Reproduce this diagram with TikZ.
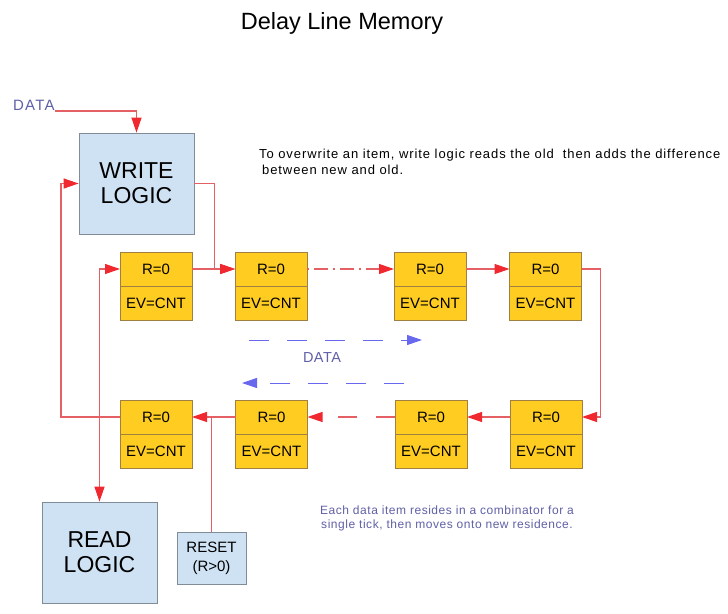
\documentclass[tikz,border=0pt]{standalone}
\usepackage{fontspec}
\setmainfont{Liberation Sans}
\usetikzlibrary{arrows.meta,positioning}
\definecolor{wirered}{RGB}{228,96,100}
\definecolor{tipred}{RGB}{240,40,48}
\definecolor{flowblue}{RGB}{104,104,238}
\definecolor{textblue}{RGB}{96,96,168}
\definecolor{logicfill}{RGB}{207,226,243}
\definecolor{logicline}{RGB}{128,140,152}
\definecolor{cellfill}{RGB}{255,204,34}
\definecolor{cellline}{RGB}{160,128,64}
\def\fs#1#2{\fontsize{#1}{#2}\selectfont}
\def\spaced#1{\addfontfeatures{LetterSpace=#1}}

\begin{document}
\begin{tikzpicture}[x=1pt, y=-1pt,
	wire/.style={draw=wirered, line width=1.2pt},
	wirearrow/.style={wire, -{Triangle[length=15pt,width=10pt,color=tipred]}},
	flow/.style={draw=flowblue, line width=1pt, dash pattern=on 20pt off 18pt,
		-{Triangle[length=15pt,width=10pt,color=flowblue]}},
	logic/.style={draw=logicline, fill=logicfill, line width=0.8pt, align=center,
		minimum width=115pt, minimum height=101pt, font=\fs{23}{25}},
	resetbox/.style={draw=logicline, fill=logicfill, line width=0.8pt, align=center,
		minimum width=69pt, minimum height=52pt, font=\fs{15}{19}},
	cellr/.style={draw=cellline, fill=cellfill, line width=0.8pt, outer sep=0pt,
		minimum width=72pt, minimum height=34pt, font=\fs{15}{15}},
	celle/.style={cellr, below=0pt of #1}]
		%%%%% START %%%%%
		
		\fill[white] (0, 0) rectangle (728, 613);
		
		\node[font=\fs{23.5}{23.5}] (title) at (342, 23) {Delay Line Memory};
		
		% logic blocks
		\node[logic] (write) at (136.5, 183.5) {WRITE\\LOGIC};
		\node[logic] (read) at (99.5, 552.5) {READ\\LOGIC};
		\node[resetbox] (reset) at (211.5, 558) {RESET\\(R>0)};
		
		% top row of combinators
		\node[cellr] (t1) at (156, 269) {R=0};
		\node[cellr, celle=t1] (t1e) {EV=CNT};
		\node[cellr] (t2) at (271, 269) {R=0};
		\node[cellr, celle=t2] (t2e) {EV=CNT};
		\node[cellr] (t3) at (430, 269) {R=0};
		\node[cellr, celle=t3] (t3e) {EV=CNT};
		\node[cellr] (t4) at (545.5, 269) {R=0};
		\node[cellr, celle=t4] (t4e) {EV=CNT};
		
		% bottom row of combinators
		\node[cellr] (b1) at (156, 417) {R=0};
		\node[cellr, celle=b1] (b1e) {EV=CNT};
		\node[cellr] (b2) at (271.5, 417) {R=0};
		\node[cellr, celle=b2] (b2e) {EV=CNT};
		\node[cellr] (b3) at (431, 417) {R=0};
		\node[cellr, celle=b3] (b3e) {EV=CNT};
		\node[cellr] (b4) at (546, 417) {R=0};
		\node[cellr, celle=b4] (b4e) {EV=CNT};
		
		% input and output of the loop
		\node[text=textblue, font=\fs{15}{15}\spaced{8}, anchor=south west, inner sep=0pt] (datain) at (13, 111) {DATA};
		\draw[wirearrow] (datain.south east) -| (write.north);
		\draw[wirearrow] (write.east) -- ++(20, 0) |- (t2.west);
		
		\coordinate (tap) at (99.5, 417);
		\draw[wire] (b1.west) -- (tap);
		\draw[wirearrow] (tap) -- ++(-38.5, 0) |- (write.west);
		\draw[wirearrow] (tap) |- (t1.west);
		\draw[wirearrow] (tap) -- (read.north);
		\draw[wire] (reset.north) -- (reset.north |- b1.east);
		
		% links between combinators
		\draw[wirearrow] (t1.east) -- (t2.west);
		\draw[wirearrow, dash pattern=on 2pt off 5pt on 14pt off 5pt] (t2.east) -- (t3.west);
		\draw[wirearrow] (t3.east) -- (t4.west);
		\draw[wirearrow] (t4.east) -- ++(19, 0) |- (b4.east);
		\draw[wirearrow] (b4.west) -- (b3.east);
		\draw[wirearrow, dash pattern=on 19pt off 19pt] (b3.west) -- (b2.east);
		\draw[wirearrow] (b2.west) -- (b1.east);
		
		% direction of the data
		\coordinate (fa) at (249, 340);
		\coordinate (fb) at (422, 340);
		\coordinate (fc) at (404, 383);
		\coordinate (fd) at (242, 383);
		\draw[flow] (fa) -- (fb);
		\draw[flow] (fc) -- (fd);
		\node[text=textblue, font=\fs{14.5}{14.5}\spaced{3}] (datamid) at (322, 358) {DATA};
		
		% notes
		\node[anchor=north west, align=left, inner sep=0pt, font=\fs{13}{16}\spaced{7}] (note1) at (259, 149)
			{To overwrite an item, write logic reads the old\ \ then adds the difference\\\hspace{3pt}between new and old.};
		\node[align=center, inner sep=0pt, text=textblue, font=\fs{12}{14}\spaced{4.5}] (note2) at (447, 518)
			{Each data item resides in a combinator for a\\single tick, then moves onto new residence.};
		
		%%%%% END %%%%%
	\end{tikzpicture}
\end{document}
